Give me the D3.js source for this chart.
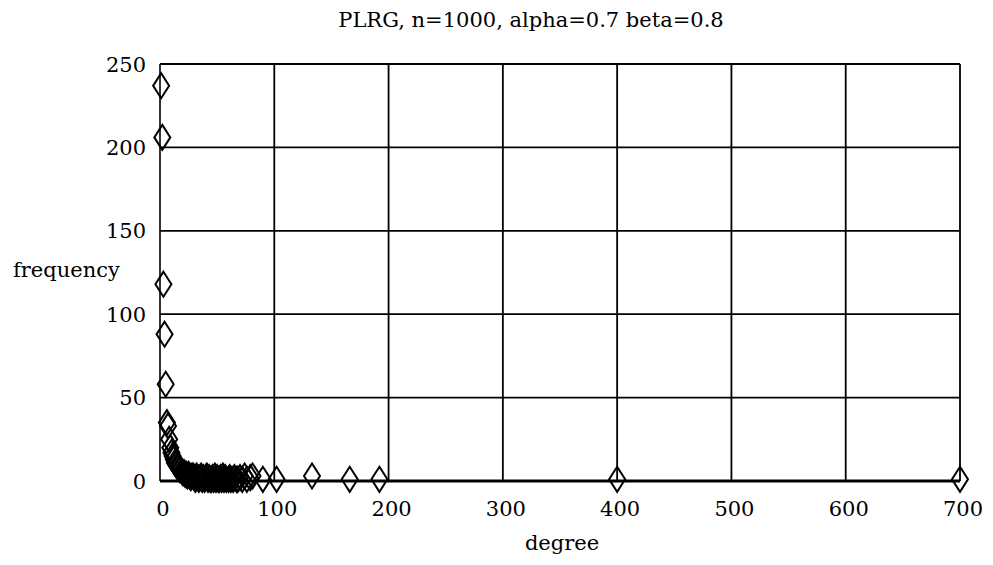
<!DOCTYPE html>
<html>
<head>
<meta charset="utf-8">
<script src="https://cdn.jsdelivr.net/npm/d3@7"></script>
<style>
  body { margin: 0; background: #fff; }
</style>
</head>
<body>
<svg id="chart" width="993" height="565"></svg>
<script>
// degree / frequency pairs
const degrees = [1, 2, 3, 4, 5, 6, 7, 8, 9, 10, 11, 12, 13, 14, 15, 16, 17, 18, 19, 20,
  21, 22, 23, 24, 25, 26, 27, 28, 29, 30, 31, 32, 33, 34, 35, 36, 37, 38, 39, 40,
  41, 42, 43, 44, 45, 46, 47, 48, 49, 50, 51, 52, 53, 54, 55, 56, 57, 58, 60, 61,
  62, 64, 65, 67, 68, 70, 72, 74, 76, 79, 81, 90, 102, 133, 166, 192, 400, 700];
const frequency = [237, 206, 118, 88, 58, 35, 33, 25, 20, 17, 15, 13, 11, 10, 9, 8, 7, 7, 6, 5,
  5, 4, 4, 3, 4, 3, 2, 3, 3, 2, 1, 3, 2, 1, 2, 3, 1, 2, 1, 2,
  3, 1, 2, 1, 1, 2, 1, 3, 1, 2, 1, 1, 2, 1, 3, 1, 2, 1, 1, 2,
  1, 1, 2, 1, 1, 2, 1, 3, 1, 2, 3, 1, 1, 3, 1, 1, 1, 1];
const xTicks = [0, 100, 200, 300, 400, 500, 600, 700];
const yTicks = [0, 50, 100, 150, 200, 250];

const font = "'DejaVu Serif', serif";

const svg = d3.select("#chart");
const x = d3.scaleLinear().domain([0, 700]).range([160, 960]);
const y = d3.scaleLinear().domain([0, 250]).range([481, 64]);

// grid
svg.append("g").selectAll("line").data(xTicks).join("line")
  .attr("x1", d => x(d)).attr("x2", d => x(d))
  .attr("y1", y(0)).attr("y2", y(250))
  .attr("stroke", "#000").attr("stroke-width", d => d === 0 ? 1.6 : 1.8);

svg.append("g").selectAll("line").data(yTicks).join("line")
  .attr("x1", x(0)).attr("x2", x(700))
  .attr("y1", d => y(d)).attr("y2", d => y(d))
  .attr("stroke", "#000").attr("stroke-width", d => d === 0 ? 3 : 1.8);

// tick labels
svg.append("g").selectAll("text").data(xTicks).join("text")
  .attr("x", d => x(d) + 3).attr("y", 516)
  .attr("text-anchor", "middle").attr("font-size", 21).attr("font-family", font)
  .text(d => d);

svg.append("g").selectAll("text").data(yTicks).join("text")
  .attr("x", 146).attr("y", d => y(d)).attr("dy", "0.36em")
  .attr("text-anchor", "end").attr("font-size", 21).attr("font-family", font)
  .text(d => d);

// points: open diamonds
const pts = degrees.map((d, i) => ({ deg: d, freq: frequency[i] }));
const diamond = "M0,-12.5L8,0L0,12.5L-8,0Z";
svg.append("g").selectAll("path").data(pts).join("path")
  .attr("d", diamond)
  .attr("transform", d => `translate(${x(d.deg)},${y(d.freq)})`)
  .attr("fill", "none").attr("stroke", "#000").attr("stroke-width", 2);

// labels
svg.append("text").attr("x", 531).attr("y", 27)
  .attr("text-anchor", "middle").attr("font-size", 21).attr("font-family", font)
  .text("PLRG, n=1000, alpha=0.7 beta=0.8");

svg.append("text").attr("x", 13).attr("y", 277)
  .attr("font-size", 21).attr("font-family", font).text("frequency");

svg.append("text").attr("x", 562).attr("y", 550)
  .attr("text-anchor", "middle").attr("font-size", 21).attr("font-family", font).text("degree");
</script>
</body>
</html>
